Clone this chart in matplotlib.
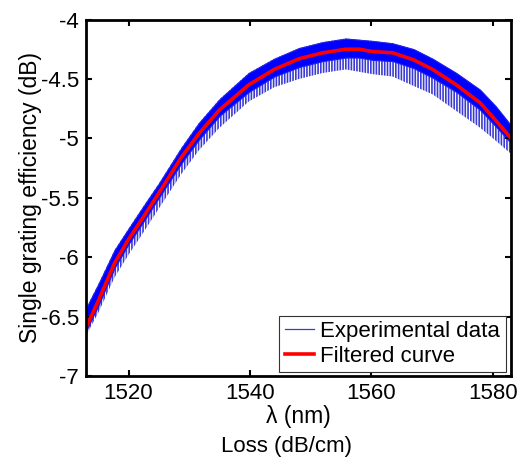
import matplotlib
matplotlib.use("Agg")
import matplotlib.pyplot as plt
from matplotlib.lines import Line2D

plt.rcParams['font.family'] = ['Liberation Sans', 'DejaVu Sans']
plt.rcParams['hatch.linewidth'] = 1.2

# wavelength (nm) and values (dB)
wl = [1513, 1515, 1517.7, 1520, 1522.6, 1525, 1528.7, 1531.6, 1535, 1539.8,
      1544, 1548.1, 1552, 1555.8, 1558, 1560.2, 1563.5, 1567, 1570.1, 1574,
      1577.9, 1580.5, 1583]
filtered = [-6.59, -6.37, -6.05, -5.85, -5.65, -5.46, -5.16, -4.96, -4.76, -4.55,
            -4.42, -4.33, -4.28, -4.25, -4.25, -4.27, -4.28, -4.34, -4.42, -4.55,
            -4.70, -4.85, -5.00]
# envelope of the experimental (fringing) trace
exp_upper = [-6.43, -6.23, -5.94, -5.76, -5.56, -5.38, -5.08, -4.87, -4.67, -4.45,
             -4.33, -4.24, -4.19, -4.16, -4.17, -4.18, -4.20, -4.25, -4.33, -4.45,
             -4.59, -4.73, -4.89]
# lower edge of the densely filled part of the trace
exp_dense = [-6.62, -6.41, -6.09, -5.89, -5.69, -5.50, -5.21, -5.01, -4.81, -4.61,
             -4.48, -4.40, -4.35, -4.32, -4.32, -4.34, -4.35, -4.41, -4.49, -4.61,
             -4.76, -4.90, -5.04]
exp_lower = [-6.66, -6.47, -6.17, -5.98, -5.78, -5.59, -5.30, -5.10, -4.91, -4.69,
             -4.57, -4.50, -4.45, -4.42, -4.44, -4.46, -4.48, -4.56, -4.63, -4.77,
             -4.91, -5.02, -5.13]

xticks = [1520, 1540, 1560, 1580]
yticks = [-7, -6.5, -6, -5.5, -5, -4.5, -4]
ytick_labels = ['-7', '-6.5', '-6', '-5.5', '-5', '-4.5', '-4']

fig = plt.figure(figsize=(5.32, 4.57), dpi=100)
ax = fig.add_axes([0.1617, 0.1772, 0.7988, 0.7801])

# experimental data: striated lower part + dense upper part
ax.fill_between(wl, exp_lower, exp_upper, facecolor='none', edgecolor='#3c3cd4',
                hatch='|' * 6, linewidth=0)
ax.fill_between(wl, exp_dense, exp_upper, facecolor='#0000ff', edgecolor='#2020f0',
                linewidth=0.8)
ax.plot(wl, filtered, color='#ff0000', lw=2.6)

ax.set_xlim(1513, 1583)
ax.set_ylim(-7, -4)
ax.set_xticks(xticks)
ax.set_xticklabels([str(t) for t in xticks])
ax.set_yticks(yticks)
ax.set_yticklabels(ytick_labels)
ax.tick_params(direction='in', top=True, right=True, length=4, width=1.5,
               labelsize=16, pad=5)
for sp in ax.spines.values():
    sp.set_linewidth(2)

ax.set_xlabel('λ (nm)', fontsize=16.5, labelpad=1)
ax.set_ylabel('Single grating efficiency (dB)', fontsize=16.5, labelpad=-1)

handles = [Line2D([], [], color='#3a3ad8', lw=0.9),
           Line2D([], [], color='#ff0000', lw=2.6)]
leg = ax.legend(handles, ['Experimental data', 'Filtered curve'], loc='lower right',
                bbox_to_anchor=(0.988, 0.011), borderaxespad=0, fontsize=16,
                handlelength=1.3, handletextpad=0.3, labelspacing=0.15,
                borderpad=0.25, fancybox=False, framealpha=1)
leg.get_frame().set_edgecolor('#333333')
leg.get_frame().set_linewidth(0.8)

fig.text(0.539, 0.022, 'Loss (dB/cm)', fontsize=16, ha='center', va='center')

fig.savefig('out.png', dpi=100)
